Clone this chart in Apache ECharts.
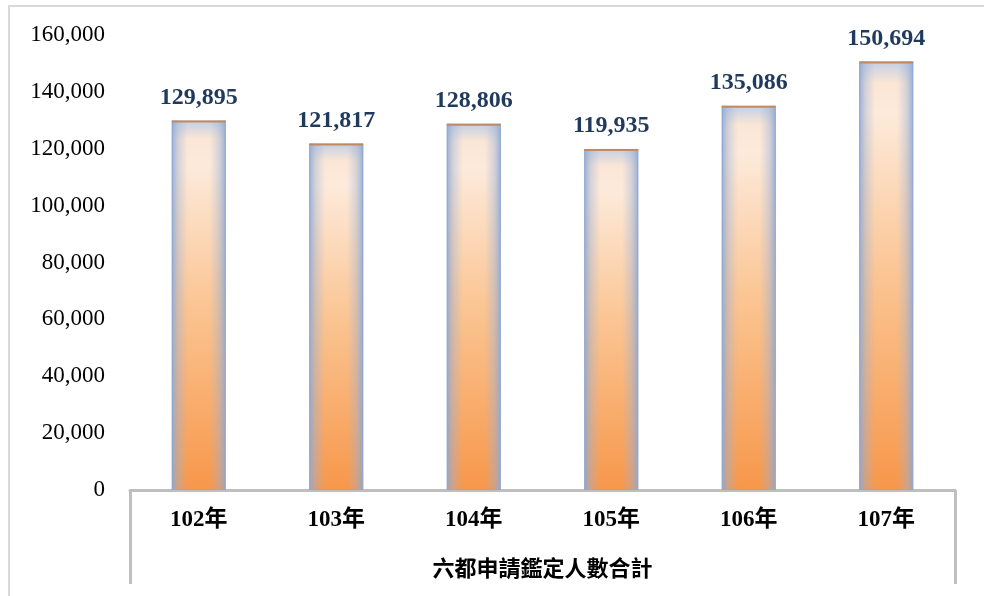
<!DOCTYPE html>
<html>
<head>
<meta charset="utf-8">
<script src="https://cdn.jsdelivr.net/npm/echarts@6/dist/echarts.min.js"></script>
<style>
  html, body { margin: 0; padding: 0; background: #ffffff; overflow: hidden; }
  #chart { position: absolute; left: 0; top: 0; width: 984px; height: 596px; }
  #frame { position: absolute; left: 8px; top: 5px; width: 1200px; height: 1200px;
           border-top: 2px solid #d9d9d9; border-left: 2px solid #d9d9d9; pointer-events: none; }
</style>
</head>
<body>
<div id="chart"></div>
<div id="frame"></div>
<script>
// Yearly totals of appraisal applications across the six municipalities
const categories = ['102年', '103年', '104年', '105年', '106年', '107年'];
const groupLabel = ['六都申請鑑定人數合計'];
const totals = [129895, 121817, 128806, 119935, 135086, 150694];
const yTicks = { min: 0, max: 160000, interval: 20000 };

const serif = '"Liberation Serif", "Times New Roman", "Noto Sans CJK TC", serif';
const chart = echarts.init(document.getElementById('chart'));

const fmt = v => v.toLocaleString('en-US');

chart.setOption({
  animation: false,
  grid: { left: 130, right: 29, top: 35, bottom: 106 },
  xAxis: [
    {
      type: 'category',
      data: categories,
      position: 'bottom',
      axisLine: { lineStyle: { color: '#bfbfbf', width: 3 } },
      axisTick: { show: false },
      axisLabel: {
        color: '#000', fontFamily: serif, fontSize: 23, fontWeight: 'bold', margin: 19
      }
    },
    {
      type: 'category',
      data: groupLabel,
      position: 'bottom',
      axisLine: { show: false },
      axisTick: { show: true, length: 94, lineStyle: { color: '#bfbfbf', width: 3 } },
      axisLabel: {
        color: '#000', fontFamily: serif, fontSize: 22, fontWeight: 'bold', margin: 69
      }
    }
  ],
  yAxis: {
    type: 'value',
    min: yTicks.min, max: yTicks.max, interval: yTicks.interval,
    axisLine: { show: false },
    axisTick: { show: false },
    splitLine: { show: false },
    axisLabel: {
      color: '#000', fontFamily: serif, fontSize: 23, margin: 25,
      formatter: v => fmt(v)
    }
  },
  series: [
    {
      // main bar body: cream top fading to orange at the base
      type: 'bar',
      data: totals,
      barWidth: 54,
      itemStyle: {
        color: new echarts.graphic.LinearGradient(0, 0, 0, 1, [
          { offset: 0, color: '#c3cfe4' },
          { offset: 0.05, color: '#fbe6d6' },
          { offset: 0.12, color: '#fdeadb' },
          { offset: 0.5, color: '#fbc593' },
          { offset: 1, color: '#f7974a' }
        ]),
        borderColor: 'rgba(140,166,206,0.9)',
        borderWidth: 1
      },
      label: {
        show: true, position: 'top', distance: 11,
        color: '#1f3a5c', fontFamily: serif, fontSize: 24, fontWeight: 'bold',
        formatter: p => fmt(p.value)
      }
    },
    {
      // bluish shading along the bar sides
      type: 'bar',
      data: totals,
      barWidth: 54,
      barGap: '-100%',
      silent: true,
      z: 3,
      itemStyle: {
        color: new echarts.graphic.LinearGradient(0, 0, 1, 0, [
          { offset: 0, color: 'rgba(140,166,210,0.85)' },
          { offset: 0.12, color: 'rgba(150,175,215,0.4)' },
          { offset: 0.3, color: 'rgba(160,180,220,0)' },
          { offset: 0.7, color: 'rgba(160,180,220,0)' },
          { offset: 0.88, color: 'rgba(150,175,215,0.4)' },
          { offset: 1, color: 'rgba(140,166,210,0.85)' }
        ])
      }
    },
    {
      // thin cap line on top of each bar
      type: 'pictorialBar',
      data: totals,
      symbol: 'rect',
      symbolSize: [54, 2],
      symbolPosition: 'end',
      symbolOffset: [0, 0],
      barGap: '-100%',
      silent: true,
      z: 4,
      itemStyle: { color: '#c28a62' }
    }
  ]
});
</script>
</body>
</html>
